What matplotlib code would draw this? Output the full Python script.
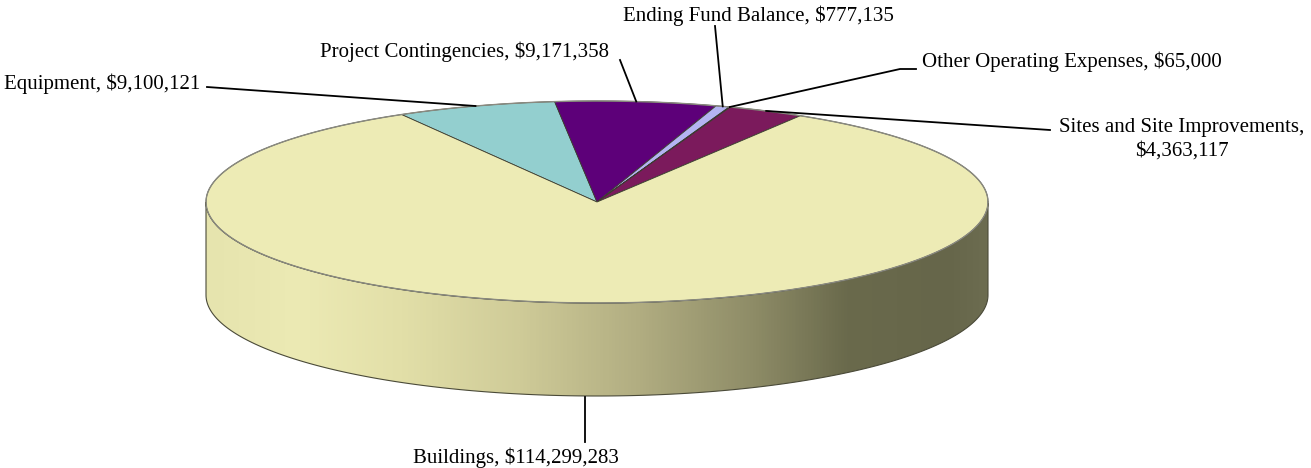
import numpy as np
import matplotlib
matplotlib.use("Agg")
import matplotlib.pyplot as plt
from matplotlib.patches import Polygon
from matplotlib.colors import LinearSegmentedColormap

categories = ["Equipment", "Project Contingencies", "Ending Fund Balance",
              "Other Operating Expenses", "Sites and Site Improvements", "Buildings"]
values = [9100121, 9171358, 777135, 65000, 4363117, 114299283]
label_texts = ["Equipment, $9,100,121", "Project Contingencies, $9,171,358",
               "Ending Fund Balance, $777,135", "Other Operating Expenses, $65,000",
               "Sites and Site Improvements,\n$4,363,117", "Buildings, $114,299,283"]
colors = ["#93CFCF", "#5D0079", "#B4B4F2", "#7474E6", "#7B1A5C", "#EDEBB5"]

W, H = 1311, 468
fig = plt.figure(figsize=(W / 100, H / 100), dpi=100)
ax = fig.add_axes([0, 0, 1, 1])
ax.set_xlim(0, W)
ax.set_ylim(H, 0)
ax.axis("off")

cx, cy, rx, ry, depth = 597, 202, 391, 101, 93
start = 120.0

def pt(t, dy=0):
    r = np.radians(t)
    return cx + rx * np.cos(r), cy - ry * np.sin(r) + dy

total = sum(values)
spans = [v / total * 360 for v in values]
bounds = [start]
for s in spans:
    bounds.append(bounds[-1] - s)

# side (front half visible) with gradient
ts = np.linspace(180, 360, 200)
top_edge = [pt(t) for t in ts]
bot_edge = [pt(t, depth) for t in ts[::-1]]
side_poly = Polygon(top_edge + bot_edge, closed=True, facecolor="none",
                    edgecolor="#4a4a38", lw=0.8, zorder=3)
ax.add_patch(side_poly)
cmap = LinearSegmentedColormap.from_list("side", [
    (0.0, "#E6E4AE"), (0.12, "#ECEAB4"), (0.25, "#E2DFA8"), (0.4, "#CFCB98"),
    (0.55, "#B2AE82"), (0.7, "#8E8C67"), (0.82, "#6A6A4C"), (0.95, "#66664A"),
    (1.0, "#6C6C50")])
grad = np.linspace(0, 1, 512).reshape(1, -1)
im = ax.imshow(grad, cmap=cmap, extent=(cx - rx, cx + rx, cy + depth + ry, cy),
               aspect="auto", zorder=2)
im.set_clip_path(side_poly)

# top slices
for i, v in enumerate(values):
    a0, a1 = bounds[i], bounds[i + 1]
    tt = np.linspace(a0, a1, max(3, int(abs(a0 - a1)) * 2))
    pts = [(cx, cy)] + [pt(t) for t in tt]
    ax.add_patch(Polygon(pts, closed=True, facecolor=colors[i],
                         edgecolor="#3c3c30", lw=0.6, zorder=4))
# top outline
tt = np.linspace(0, 360, 400)
ax.plot([pt(t)[0] for t in tt], [pt(t)[1] for t in tt], color="#8a8a80", lw=1.0, zorder=5)

# labels and leader lines
font = dict(family="Liberation Serif", fontsize=15, color="black")
mids = [(bounds[i] + bounds[i + 1]) / 2 for i in range(len(values))]
lab = [
    dict(xy=(4, 84), ha="left", va="center", path=[(207, 87)]),
    dict(xy=(320, 52), ha="left", va="center", path=[(620, 60)]),
    dict(xy=(623, 16), ha="left", va="center", path=[(715, 26)]),
    dict(xy=(922, 62), ha="left", va="center", path=[(916, 69), (900, 69)]),
    dict(xy=(1182, 139), ha="center", va="center", path=[(1050, 130)]),
    dict(xy=(516, 458), ha="center", va="center", path=[(585, 442)]),
]
for i, L in enumerate(lab):
    ax.text(L["xy"][0], L["xy"][1], label_texts[i], ha=L["ha"], va=L["va"],
            linespacing=1.3, zorder=6, **font)
    mx, my = pt(mids[i], depth if i == 5 else 0)
    if i == 5:
        mx, my = 585, my + 1
    p = L["path"] + [(mx, my)]
    ax.plot([q[0] for q in p], [q[1] for q in p], color="black", lw=1.3, zorder=6)

fig.savefig("out.png", dpi=100, facecolor="white")
